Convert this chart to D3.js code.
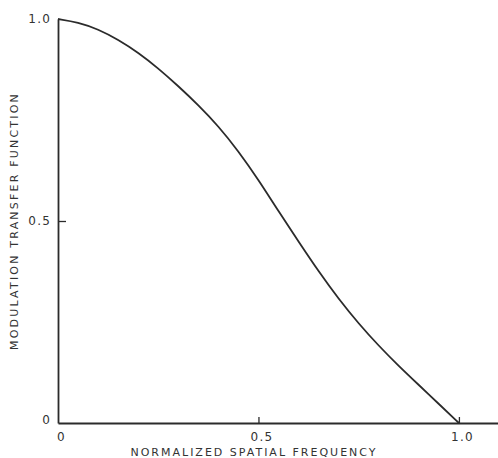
<!DOCTYPE html>
<html>
<head>
<meta charset="utf-8">
<script src="https://cdn.jsdelivr.net/npm/d3@7"></script>
<style>
  body { margin: 0; background: #fff; }
  svg text { font-family: "DejaVu Sans", sans-serif; fill: #333; }
</style>
</head>
<body>
<div id="root"></div>
<script>
// values
const freq = [0, 0.05, 0.1, 0.15, 0.2, 0.25, 0.3, 0.35, 0.4, 0.45, 0.5, 0.55, 0.6, 0.65, 0.7, 0.75, 0.8, 0.85, 0.9, 0.95, 1.0];
const mtf  = [1.0, 0.992, 0.975, 0.949, 0.917, 0.878, 0.834, 0.787, 0.735, 0.673, 0.602, 0.524, 0.449, 0.375, 0.307, 0.246, 0.191, 0.141, 0.094, 0.047, 0];
const xTicks = [0, 0.5, 1.0];
const yTicks = [0, 0.5, 1.0];
const xTickLabels = ["0", "0.5", "1.0"];
const yTickLabels = ["0", "0.5", "1.0"];

const width = 498, height = 458;
const margin = {top: 19, right: 0, bottom: 35, left: 58};

const svg = d3.select("#root").append("svg")
    .attr("width", width)
    .attr("height", height);

const x = d3.scaleLinear().domain([0, 1.0975]).range([margin.left, width - margin.right]);
const y = d3.scaleLinear().domain([0, 1]).range([height - margin.bottom, margin.top]);

const ink = "#2b2b2b";

// x axis, ticks point inward
const gx = svg.append("g")
    .attr("transform", `translate(0,${y(0)})`)
    .call(d3.axisBottom(x)
        .tickValues(xTicks)
        .tickFormat((d, i) => xTickLabels[i])
        .tickSizeInner(-6)
        .tickSizeOuter(0)
        .tickPadding(9));

// y axis
const gy = svg.append("g")
    .attr("transform", `translate(${x(0)},0)`)
    .call(d3.axisLeft(y)
        .tickValues(yTicks)
        .tickFormat((d, i) => yTickLabels[i])
        .tickSizeInner(-8)
        .tickSizeOuter(0)
        .tickPadding(7));

[gx, gy].forEach(g => {
    g.select(".domain").attr("stroke", ink).attr("stroke-width", 1.8);
    g.selectAll(".tick line").attr("stroke", ink).attr("stroke-width", 1.3);
    g.selectAll(".tick text")
        .style("font-size", "12px")
        .style("letter-spacing", "1.2px")
        .attr("fill", "#333");
});
// no tick marks at the origin or at the top
gx.selectAll(".tick").filter(d => d === 0).select("line").remove();
gx.selectAll(".tick text").attr("dx", 3);
gy.selectAll(".tick").filter(d => d === 0 || d === 1).select("line").remove();
gy.selectAll(".tick").filter(d => d === 0).select("text").attr("dy", "0.0em");

// curve
const pts = freq.map((f, i) => [f, mtf[i]]);
svg.append("path")
    .datum(pts)
    .attr("fill", "none")
    .attr("stroke", ink)
    .attr("stroke-width", 1.8)
    .attr("d", d3.line()
        .x(d => x(d[0]))
        .y(d => y(d[1]))
        .curve(d3.curveBasis));

// axis titles
svg.append("text")
    .attr("x", 254)
    .attr("y", 456)
    .attr("text-anchor", "middle")
    .style("font-size", "11px")
    .style("letter-spacing", "2px")
    .text("NORMALIZED SPATIAL FREQUENCY");

svg.append("text")
    .attr("transform", `translate(18,221) rotate(-90)`)
    .attr("text-anchor", "middle")
    .style("font-size", "11px")
    .style("letter-spacing", "2.2px")
    .text("MODULATION TRANSFER FUNCTION");
</script>
</body>
</html>
